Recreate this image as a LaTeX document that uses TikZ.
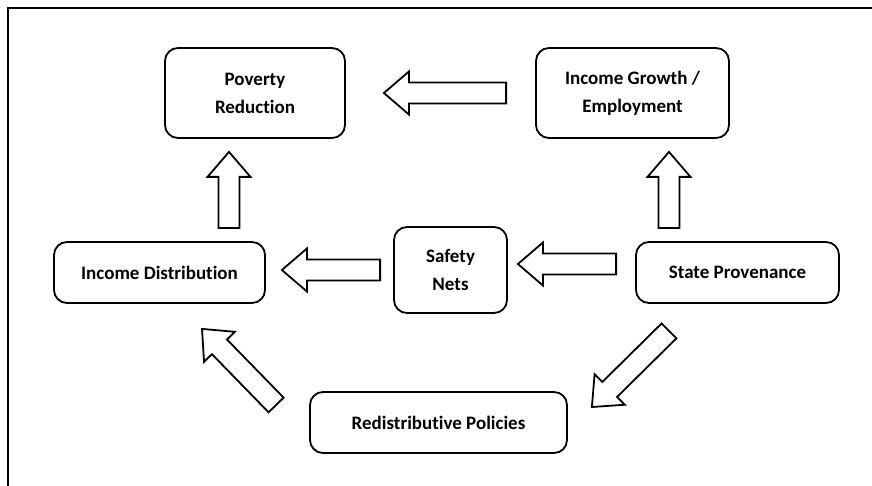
\documentclass[tikz,border=0pt]{standalone}
\usepackage{fontspec}
\setmainfont{Carlito}[Ligatures=NoCommon]
\usetikzlibrary{calc}

% fat outlined arrow from tail coordinate #1 to tip coordinate #2
\newcommand{\blockarrow}[2]{%
  \coordinate (neck) at ($(#2)!12.5pt!(#1)$);
  \draw[fat] ($(#1)!5.25pt!90:(#2)$) -- ($(neck)!5.25pt!90:(#2)$)
    -- ($(neck)!10.75pt!90:(#2)$) -- (#2)
    -- ($(neck)!10.75pt!-90:(#2)$) -- ($(neck)!5.25pt!-90:(#2)$)
    -- ($(#1)!5.25pt!-90:(#2)$) -- cycle;
}

\begin{document}
\begin{tikzpicture}[
  x=0.5pt, y=-0.5pt,
  box/.style={draw, line width=0.9pt, rounded corners=6.5pt, align=center,
              inner sep=0pt, font=\fontsize{9.5}{14}\selectfont\bfseries},
  fat/.style={draw, line width=0.9pt, fill=white, line join=miter}
]
\useasboundingbox (0,0) rectangle (872,486);

% Frame
\draw[line width=1pt] (8,486) -- (8,8) -- (872,8);

% Boxes
\node[box, minimum width=90pt, minimum height=45pt] (PR) at (255,93) {Poverty\\Reduction};
\node[box, minimum width=96.5pt, minimum height=45pt] (IG) at (632.5,93) {Income Growth /\\Employment};
\node[box, minimum width=105.5pt, minimum height=30.5pt] (ID) at (159.5,272.5) {Income Distribution};
\node[box, minimum width=56.5pt, minimum height=43pt] (SN) at (450.5,270) {Safety\\Nets};
\node[box, minimum width=101.5pt, minimum height=30.5pt] (SP) at (737.5,272.5) {State Provenance};
\node[box, minimum width=128.5pt, minimum height=30.5pt] (RP) at (438.5,422.5) {Redistributive Policies};

% Arrow ends
\coordinate (igT) at ($(IG.west)+(-29,0)$);
\coordinate (prR) at ($(PR.east)+(38,0)$);
\coordinate (idT) at ($(ID.north)+(69.5,-13)$);
\coordinate (prB) at ($(PR.south)+(-26,13)$);
\coordinate (spT) at ($(SP.north)+(-68.5,-13)$);
\coordinate (igB) at ($(IG.south)+(36.5,13)$);
\coordinate (snT) at ($(SN.west)+(-13,0)$);
\coordinate (idR) at ($(ID.east)+(16,-2.5)$);
\coordinate (spL) at ($(SP.west)+(-19,-8.5)$);
\coordinate (snR) at ($(SN.east)+(10,-6)$);
\coordinate (spD) at ($(SP.south)+(-68.5,27)$);
\coordinate (rpR) at ($(RP.east)+(24,-15.5)$);
\coordinate (rpL) at ($(RP.west)+(-33,-17.5)$);
\coordinate (idB) at ($(ID.south)+(42.5,25)$);

% Arrows
\blockarrow{igT}{prR}
\blockarrow{idT}{prB}
\blockarrow{spT}{igB}
\blockarrow{snT}{idR}
\blockarrow{spL}{snR}
\blockarrow{spD}{rpR}
\blockarrow{rpL}{idB}

\end{tikzpicture}
\end{document}
